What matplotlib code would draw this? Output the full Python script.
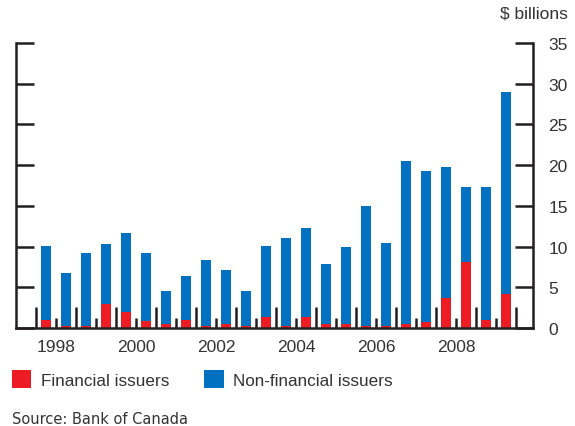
import matplotlib
matplotlib.use("Agg")
import matplotlib.pyplot as plt
import numpy as np

# semi-annual issuance, $ billions (1998H1 .. 2009H2)
periods = [y + h for y in range(1998, 2010) for h in (0.25, 0.75)]
total = [10.1, 6.7, 9.2, 10.3, 11.7, 9.2, 4.6, 6.4, 8.4, 7.1, 4.6, 10.1,
         11.0, 12.3, 7.9, 10.0, 15.0, 10.5, 20.5, 19.3, 19.8, 17.3, 17.3, 29.0]
financial = [1.0, 0.2, 0.25, 3.0, 2.0, 0.9, 0.45, 1.0, 0.2, 0.45, 0.3, 1.4,
             0.3, 1.4, 0.45, 0.45, 0.2, 0.3, 0.5, 0.7, 3.7, 8.05, 1.0, 4.2]
nonfinancial = [t - f for t, f in zip(total, financial)]
year_labels = ['1998', '', '2000', '', '2002', '', '2004', '', '2006', '', '2008', '']

red = '#ED1C24'
blue = '#0070C0'
ink = '#231F20'
txt = '#333333'

plt.rcParams['font.family'] = ['Liberation Sans', 'DejaVu Sans']

fig = plt.figure(figsize=(5.75, 4.27), dpi=100)
ax = fig.add_axes([16 / 575, 98 / 427, 517 / 575, 285 / 427])

ax.bar(periods, financial, width=0.23, color=red, label='Financial issuers')
ax.bar(periods, nonfinancial, width=0.23, bottom=financial, color=blue,
       label='Non-financial issuers')

ax.set_ylim(0, 35)
ax.set_xlim(1997.5, 2010.425)

ax.spines['top'].set_visible(False)
for s in ['left', 'right', 'bottom']:
    ax.spines[s].set_color(ink)
    ax.spines[s].set_linewidth(1.8)

ax.set_yticks(range(0, 36, 5))
ax.yaxis.set_ticks_position('both')
ax.tick_params(axis='y', direction='in', length=13, width=1.8, color=ink,
               labelleft=False, labelright=True, labelsize=12.5, labelcolor=txt, pad=11)

# year boundaries (long ticks) and half-year marks (short ticks)
ax.set_xticks(range(1998, 2011))
ax.set_xticklabels([])
ax.set_xticks([y + 0.5 for y in range(1998, 2010)], labels=year_labels, minor=True)
ax.tick_params(axis='x', which='major', direction='in', length=15, width=1.8, color=ink)
ax.tick_params(axis='x', which='minor', direction='in', length=7, width=1.8, color=ink,
               labelsize=12.5, labelcolor=txt, pad=8)

fig.text(568 / 575, 1 - 14 / 427, '$ billions', ha='right', va='center',
         fontsize=12.5, color=txt)

fig.legend(loc='upper left', bbox_to_anchor=(12 / 575, 1 - 371 / 427), ncol=2,
           frameon=False, fontsize=12.3, handlelength=1.14, handleheight=1.26,
           handletextpad=0.55, columnspacing=2.05, borderaxespad=0, borderpad=0,
           labelcolor=txt)

fig.text(12 / 575, 1 - 420 / 427, 'Source: Bank of Canada', ha='left', va='center',
         fontsize=10.5, color=txt, family=['Liberation Sans Narrow', 'DejaVu Sans'])

fig.savefig('out.png', dpi=100)
